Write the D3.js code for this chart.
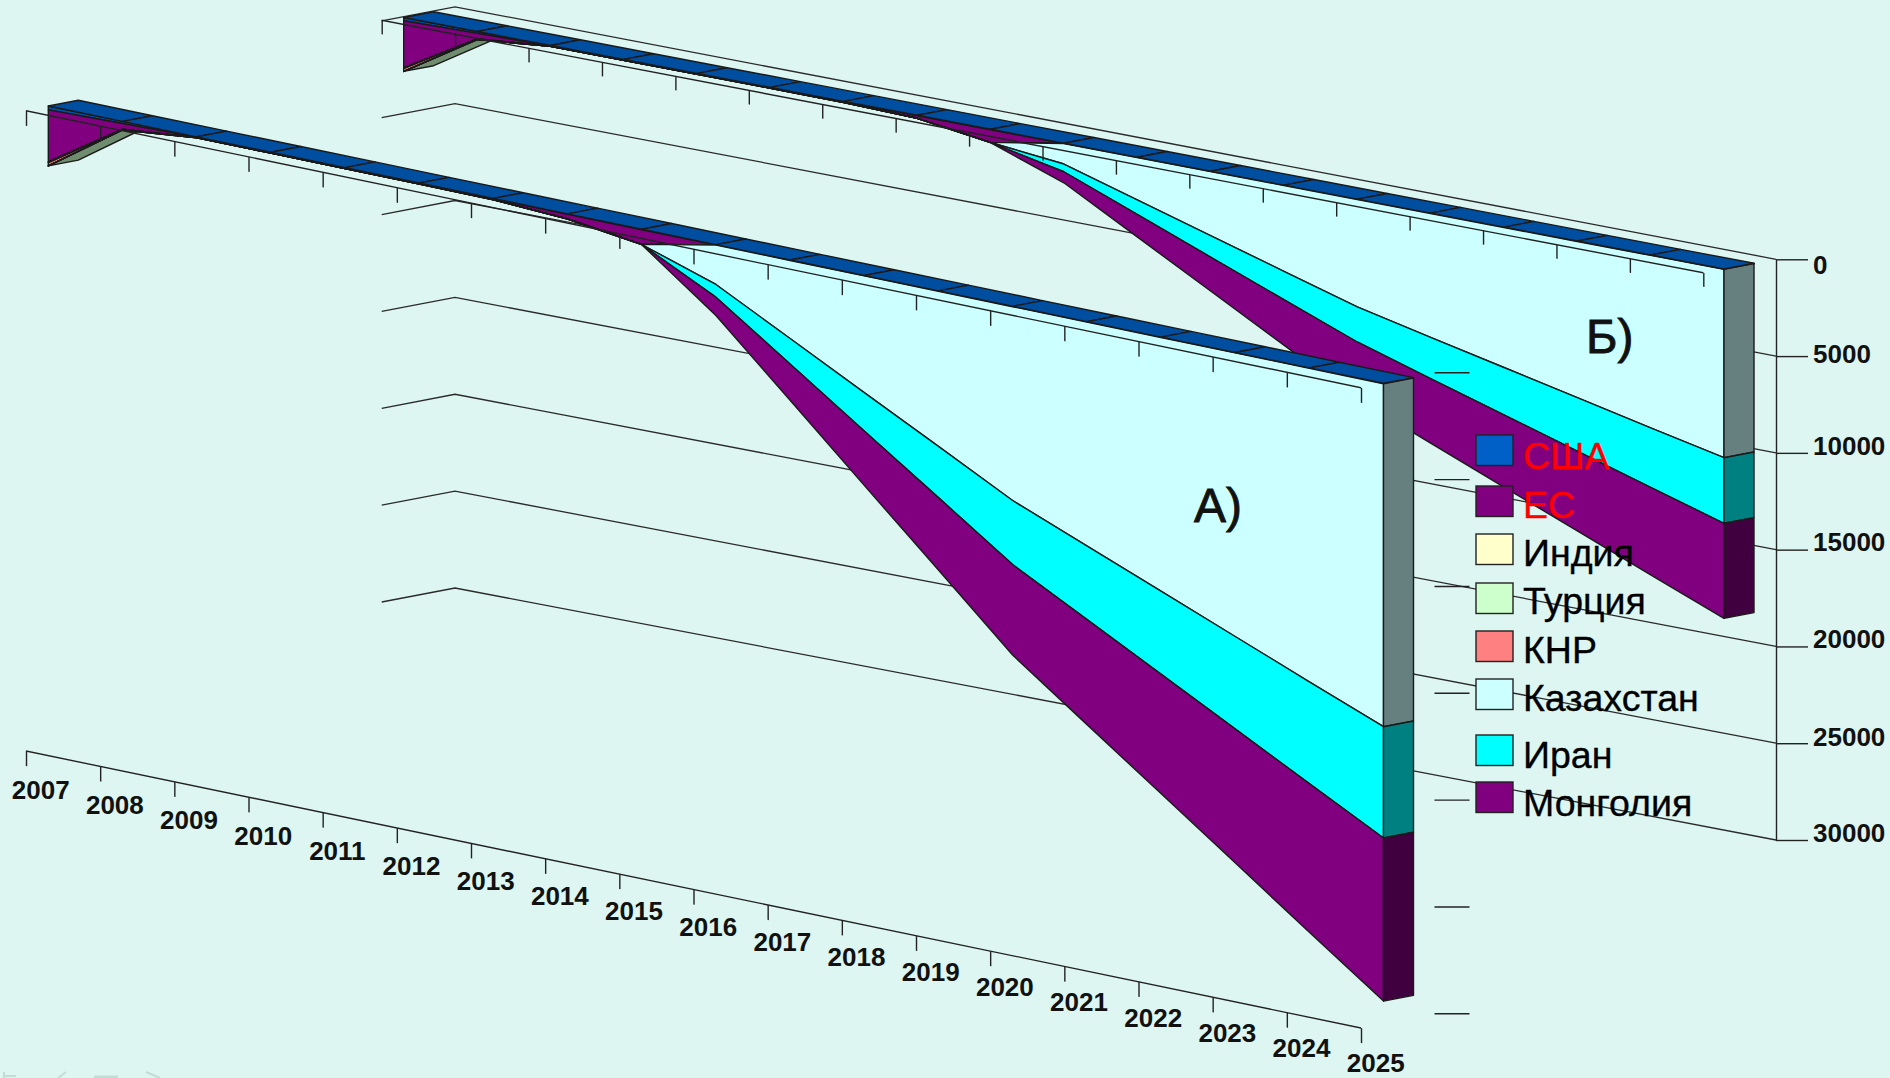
<!DOCTYPE html>
<html lang="ru">
<head>
<meta charset="utf-8">
<script src="https://cdnjs.cloudflare.com/ajax/libs/d3/7.8.5/d3.min.js"></script>
<style>
html,body{margin:0;padding:0;background:#ddf6f1;overflow:hidden}
svg{display:block;font-family:"Liberation Sans",Arial,sans-serif}
</style>
</head>
<body>
<svg id="chart" width="1890" height="1078"></svg>
<script>
// ---------- data ----------
const years = [2007,2008,2009,2010,2011,2012,2013,2014,2015,2016,2017,2018,2019,2020,2021,2022,2023,2024,2025];
const seriesNames = ["США","ЕС","Индия","Турция","КНР","Казахстан","Иран","Монголия"];
const valueTicks = [0,5000,10000,15000,20000,25000,30000];

const usaA    = [180,100,25,25,25,25,25,25,25,20,20,20,20,20,20,20,20,20,20];
const euA     = [2420,260,15,15,15,15,30,210,680,0,0,0,0,0,0,0,0,0,0];
const indiaA  = [30,10,0,0,0,0,0,0,0,0,0,0,0,0,0,0,0,0,0];
const turkeyA = [30,10,0,0,0,0,0,0,0,0,0,0,0,0,0,0,0,0,0];
const chinaA  = [140,20,5,5,5,5,5,5,5,0,0,0,0,0,0,0,0,0,0];
const kazA    = [0,0,0,0,0,0,0,0,5,1844,3650,5460,7260,9070,10470,11870,13270,14670,16050];
const iranA   = [0,0,0,0,0,0,0,0,3,594,1194,1794,2395,2995,3440,3880,4320,4765,5208];
const mongA   = [0,0,0,0,0,0,0,0,3,857,1700,2550,3390,4235,4914,5593,6272,6951,7630];

const usaB    = [170,100,25,25,25,25,25,25,25,20,20,20,20,20,20,20,20,20,20];
const euB     = [2420,280,15,15,15,15,30,130,650,0,0,0,0,0,0,0,0,0,0];
const indiaB  = [30,10,0,0,0,0,0,0,0,0,0,0,0,0,0,0,0,0,0];
const turkeyB = [30,10,0,0,0,0,0,0,0,0,0,0,0,0,0,0,0,0,0];
const chinaB  = [140,20,5,5,5,5,5,5,5,0,0,0,0,0,0,0,0,0,0];
const kazB    = [0,0,0,0,0,0,0,0,5,1055,2183,3310,4438,5550,6405,7244,8083,8922,9742];
const iranB   = [0,0,0,0,0,0,0,0,3,400,755,1110,1465,1820,2135,2450,2765,3080,3394];
const mongB   = [0,0,0,0,0,0,0,0,3,570,1165,1760,2355,2950,3343,3736,4129,4522,4915];

// ---------- styles ----------
const frontColors = ["#004ea0","#800080","#ffffcc","#ccffcc","#ff8080","#ccffff","#00ffff","#800080"];
const sideColors  = ["#002f60","#400040","#808066","#668066","#804040","#668080","#008080","#400040"];
const legendColors= ["#0060c8","#800080","#ffffcc","#ccffcc","#ff8080","#ccffff","#00ffff","#800080"];
const legendTextColors = ["#ff0000","#ff0000","#000","#000","#000","#000","#000","#000"];
const undersideColor = "#6f8c6f";
const stripColor = "#004ea0";
const legendBoxY = [435,486,534,583,631,679,735,782];
const legendTextY = [469,518,566,614,663,711,768,816];
const valueLabelNudge = [6,-2,-6.5,-7,-7,-6.5,-6.5];

const svg = d3.select("#chart");
const ink = "#1a1a1a";

// ---------- back wall of the grid ----------
const gridY = d3.scaleLinear().domain([0,30000]).range([259.3,840]);
const wallY = d3.scaleLinear().domain([0,30000]).range([6.8,588]);
const grid = svg.append("g").attr("fill","none").attr("stroke","#2a2a2a").attr("stroke-width",1.3);
grid.selectAll("path").data(valueTicks).join("path").attr("d", v =>
  d3.line()([[381.7, wallY(v)+14],[455, wallY(v)],[1776, gridY(v)]]));

// ---------- panels ----------
function panel(cfg){
  const keys = seriesNames;
  const table = years.map((y,i)=>{
    const row = {year:y};
    keys.forEach((k,j)=>row[k]=cfg.values[j][i]);
    return row;
  });
  const stacked = d3.stack().keys(keys)(table);
  const x = d3.scaleLinear().domain([2007,2025]).range(cfg.xRange);
  const base = d3.scaleLinear().domain([2007,2025]).range(cfg.baseRange);
  const val = d3.scaleLinear().domain([0,30000]).range([0,30000*cfg.k]);
  const dx = 30, dy = -5.7;
  const g = svg.append("g").attr("stroke",ink).attr("stroke-width",1.4).attr("stroke-linejoin","round");

  // underside faces that turn towards the viewer
  const bottom = stacked[stacked.length-1];
  const pairs = d3.pairs(years.map((y,i)=>({year:y, v:bottom[i][1]})));
  g.append("g").selectAll("path")
    .data(pairs.filter(([a,b])=>{
      const s=(base(b.year)+val(b.v)-base(a.year)-val(a.v))/(x(b.year)-x(a.year));
      return s < dy/dx;
    }))
    .join("path").attr("fill",undersideColor)
    .attr("d",([a,b])=>{
      const pa=[x(a.year),base(a.year)+val(a.v)], pb=[x(b.year),base(b.year)+val(b.v)];
      return d3.line()([pa,pb,[pb[0]+dx,pb[1]+dy],[pa[0]+dx,pa[1]+dy]])+"Z";
    });

  // front faces
  const area = d3.area()
    .x(d=>x(d.data.year))
    .y0(d=>base(d.data.year)+val(d[0]))
    .y1(d=>base(d.data.year)+val(d[1]));
  g.append("g").selectAll("path").data(stacked).join("path")
    .attr("fill",(d,i)=>frontColors[i]).attr("d",area);

  // right-hand end faces
  g.append("g").selectAll("path").data(stacked).join("path")
    .attr("fill",(d,i)=>sideColors[i])
    .attr("d",s=>{
      const e=s[s.length-1], X=x(2025), B=base(2025);
      return d3.line()([[X,B+val(e[0])],[X,B+val(e[1])],[X+dx,B+val(e[1])+dy],[X+dx,B+val(e[0])+dy]])+"Z";
    });

  // top strip, one cell per year
  g.append("g").selectAll("path").data(d3.pairs(years)).join("path")
    .attr("fill",stripColor)
    .attr("d",([a,b])=>d3.line()([[x(a),base(a)],[x(b),base(b)],[x(b)+dx,base(b)+dy],[x(a)+dx,base(a)+dy]])+"Z");
}

function slantAxis(xr, yr, tick){
  const scale = d3.scaleLinear().domain([2007,2025]).range([0,xr[1]-xr[0]]);
  const angle = Math.atan2(yr[1]-yr[0], xr[1]-xr[0])*180/Math.PI;
  const ax = svg.append("g")
    .attr("transform",`translate(${xr[0]},${yr[0]}) skewY(${angle})`)
    .call(d3.axisBottom(scale).tickValues(years).tickFormat("").tickSize(tick).tickSizeOuter(0));
  ax.selectAll("path,line").attr("stroke","#222").attr("stroke-width",1.4);
  ax.select(".domain").attr("d",`M0,0H${xr[1]-xr[0]}`);
  return scale;
}

panel({values:[usaB,euB,indiaB,turkeyB,chinaB,kazB,iranB,mongB], xRange:[403.7,1724], baseRange:[17.5,269], k:0.01933});
slantAxis([381.7,1703.3],[20.3,272.7],14);

panel({values:[usaA,euA,indiaA,turkeyA,chinaA,kazA,iranA,mongA], xRange:[48.3,1383.5], baseRange:[106,383.3], k:0.02137});
slantAxis([26,1361],[110.7,387.7],15);

// bottom year axis with labels
slantAxis([26,1361],[751,1028],15);
const labelX = d3.scaleLinear().domain([2007,2025]).range([40.7,1375.7]);
const labelY = d3.scaleLinear().domain([2007,2025]).range([799,1072]);
svg.append("g").attr("font-size",26).attr("font-weight","bold").attr("text-anchor","middle").attr("fill","#111")
  .selectAll("text").data(years).join("text")
  .attr("x",d=>labelX(d)).attr("y",d=>labelY(d)).text(d=>d);

// value axis of panel B
const vAxis = svg.append("g").attr("transform","translate(1776,0)")
  .call(d3.axisRight(gridY).tickValues(valueTicks).tickSize(32).tickSizeOuter(0).tickPadding(5).tickFormat(d3.format("d")));
vAxis.selectAll("path,line").attr("stroke","#222").attr("stroke-width",1.4);
vAxis.selectAll("text").attr("font-size",26).attr("font-weight","bold").attr("fill","#111")
  .attr("font-family","'Liberation Sans',Arial,sans-serif")
  .attr("dy",(d,i)=>`${0.32+valueLabelNudge[i]/26}em`);

// unlabelled value ticks of panel A
const tickA = d3.scaleLinear().domain([0,30000]).range([372.3,1013.3]);
const aAxis = svg.append("g").attr("transform","translate(1434.5,0)")
  .call(d3.axisRight(tickA).tickValues(valueTicks).tickSize(35).tickFormat(""));
aAxis.select(".domain").remove();
aAxis.selectAll("line").attr("stroke","#222").attr("stroke-width",1.4);

// panel captions
svg.append("g").attr("font-size",48).attr("fill","#111").attr("stroke","#111").attr("stroke-width",0.9)
  .selectAll("text").data([{t:"А)",x:1194,y:522},{t:"Б)",x:1586,y:353}]).join("text")
  .attr("x",d=>d.x).attr("y",d=>d.y).text(d=>d.t);

// legend
const leg = svg.append("g");
leg.selectAll("rect").data(seriesNames).join("rect")
  .attr("x",1476).attr("width",37).attr("y",(d,i)=>legendBoxY[i]).attr("height",30.5)
  .attr("fill",(d,i)=>legendColors[i]).attr("stroke","#222").attr("stroke-width",1.4);
leg.selectAll("text").data(seriesNames).join("text")
  .attr("x",1523).attr("y",(d,i)=>legendTextY[i]).attr("font-size",37.5)
  .attr("stroke",(d,i)=>legendTextColors[i]).attr("stroke-width",0.35)
  .attr("fill",(d,i)=>legendTextColors[i]).text(d=>d);

// faint slide-show controls in the bottom-left corner
const nav = svg.append("g").attr("fill","none").attr("stroke","#c4dcd8").attr("stroke-width",2);
nav.append("path").attr("d","M4,1072V1078M4,1076H16");
nav.append("path").attr("d","M66,1072L58,1078");
nav.append("path").attr("d","M94,1077H118").attr("stroke-width",3);
nav.append("path").attr("d","M146,1072L160,1078");
</script>
</body>
</html>
